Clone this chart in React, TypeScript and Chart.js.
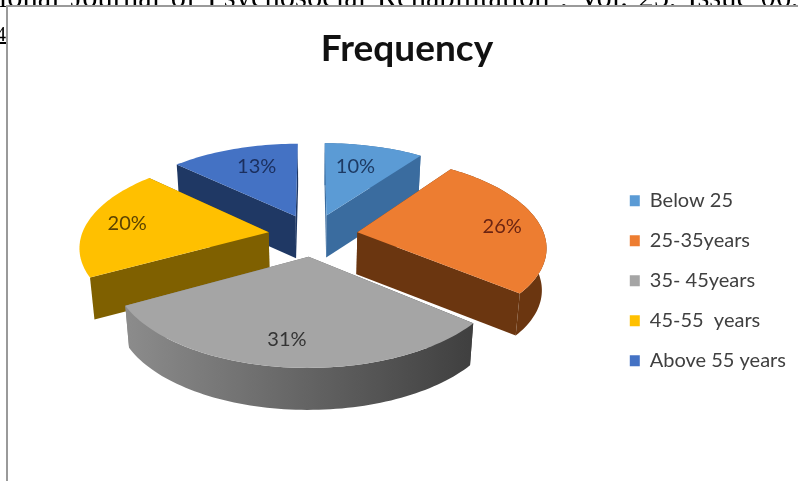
import React, { useEffect, useRef } from "react";
import { Chart, registerables } from "chart.js";

Chart.register(...registerables);

const categories = ["Below 25", "25-35years", "35- 45years", "45-55  years", "Above 55 years"];
const shares = [10, 26, 31, 20, 13];
const topColors = ["#5b9bd5", "#ed7d31", "#a5a5a5", "#ffc000", "#4472c4"];
const wallLeftColors = ["#3a6c9f", "#6b3610", "#8c8c8c", "#7f6000", "#1f3864"];
const wallRightColors = ["#3a6c9f", "#6b3610", "#3f3f3f", "#7f6000", "#1f3864"];
const labelColors = ["#1d3a63", "#6b2412", "#333333", "#5c4300", "#1b2f5e"];
const labelRadii = [0.68, 0.79, 0.78, 0.78, 0.7];
const labelAngleNudges = [-2.5, 2.5, 1.7, 0, 3];
const titleText = "Frequency";
const runningHead = "International Journal of Psychosocial Rehabilitation , Vol. 25, Issue 06, 2021";

// Tilted-disc projection of the pie
const CX = 313;
const CY = 235;
const SCALE_X = 187;
const SCALE_Y = 88;
const PERSPECTIVE = 0.145;
const EXPLODE = 0.24;
const DEPTH = 42;
const BASE_SHRINK = 0.98;
const RIM_WALL_END = (242 * Math.PI) / 180;

type Pt = { x: number; y: number };

const project = (u: number, v: number): Pt => {
  const w = 1 + PERSPECTIVE * v;
  return { x: CX + (SCALE_X * u) / w, y: CY - (SCALE_Y * v) / w };
};

const fillPoly = (ctx: CanvasRenderingContext2D, pts: Pt[], fill: string | CanvasGradient) => {
  ctx.beginPath();
  pts.forEach((p, i) => (i ? ctx.lineTo(p.x, p.y) : ctx.moveTo(p.x, p.y)));
  ctx.closePath();
  ctx.fillStyle = fill;
  ctx.fill();
};

// Lower edge of a wall: dropped by the disc thickness, drawn in toward the vanishing axis
const down = (p: Pt): Pt => ({ x: CX + (p.x - CX) * BASE_SHRINK, y: p.y + DEPTH });

// Page furniture around the embedded chart: cut-off print text and the frame
const pageBackdrop = {
  id: "pageBackdrop",
  beforeDraw(chart: Chart) {
    const { ctx, width, height } = chart;
    ctx.save();
    ctx.fillStyle = "#ffffff";
    ctx.fillRect(0, 0, width, height);
    ctx.fillStyle = "#000000";
    ctx.font = "30.5px 'Liberation Serif'";
    ctx.textBaseline = "alphabetic";
    ctx.textAlign = "left";
    (ctx as any).wordSpacing = "3px";
    ctx.fillText(runningHead, -96, 7);
    (ctx as any).wordSpacing = "0px";
    ctx.fillStyle = "#ffffff";
    ctx.fillRect(6, 5, width, height);
    ctx.fillStyle = "#000000";
    ctx.font = "20px 'Liberation Serif'";
    ctx.save();
    ctx.beginPath();
    ctx.rect(0, 0, 6, height);
    ctx.clip();
    ctx.fillText("4", -4, 41);
    ctx.fillRect(0, 42, 6, 2);
    ctx.restore();
    ctx.fillStyle = "#9a9a9a";
    ctx.fillRect(6, 5, width, 2);
    ctx.fillRect(6, 5, 2, height);
    ctx.restore();
  },
};

// Replaces the flat arcs with extruded, separated wedges painted back to front
const extrudedPie = {
  id: "extrudedPie",
  beforeDatasetsDraw(chart: Chart) {
    const { ctx } = chart;
    const arcs = chart.getDatasetMeta(0).data as any[];
    const wedges = arcs.map((el, i) => {
      const { startAngle, endAngle } = el.getProps(["startAngle", "endAngle"], true);
      const a0 = startAngle + Math.PI / 2;
      const a1 = endAngle + Math.PI / 2;
      const mid = (a0 + a1) / 2;
      return { i, a0, a1, mid, ex: EXPLODE * Math.sin(mid), ey: EXPLODE * Math.cos(mid) };
    });
    const order = [...wedges].sort((p, q) => Math.cos(q.mid) - Math.cos(p.mid));

    ctx.save();
    for (const w of order) {
      const steps = Math.max(2, Math.ceil((w.a1 - w.a0) / (Math.PI / 120)));
      const rim: Pt[] = [];
      const wallRim: Pt[] = [];
      for (let s = 0; s <= steps; s++) {
        const a = w.a0 + ((w.a1 - w.a0) * s) / steps;
        const p = project(w.ex + Math.sin(a), w.ey + Math.cos(a));
        rim.push(p);
        if (a <= RIM_WALL_END) wallRim.push(p);
      }
      const apex = project(w.ex, w.ey);
      const xs = rim.map((p) => p.x).concat(apex.x);
      const grad = ctx.createLinearGradient(Math.min(...xs), 0, Math.max(...xs), 0);
      grad.addColorStop(0, wallLeftColors[w.i]);
      grad.addColorStop(1, wallRightColors[w.i]);

      const first = rim[0];
      const last = rim[rim.length - 1];
      fillPoly(ctx, [apex, first, down(first), down(apex)], grad);
      fillPoly(ctx, [apex, last, down(last), down(apex)], grad);
      if (wallRim.length > 1) fillPoly(ctx, [...wallRim, ...wallRim.map(down).reverse()], grad);
      fillPoly(ctx, [apex, ...rim], topColors[w.i]);
    }

    ctx.font = "20px Lato";
    ctx.textAlign = "center";
    ctx.textBaseline = "middle";
    for (const w of wedges) {
      const r = labelRadii[w.i];
      const a = w.mid + (labelAngleNudges[w.i] * Math.PI) / 180;
      const p = project(w.ex + r * Math.sin(a), w.ey + r * Math.cos(a));
      ctx.fillStyle = labelColors[w.i];
      ctx.fillText(`${shares[w.i]}%`, p.x, p.y);
    }
    ctx.restore();
    return false;
  },
};

export default function App() {
  const canvasRef = useRef<HTMLCanvasElement>(null);

  useEffect(() => {
    document.body.style.margin = "0";
    const chart = new Chart(canvasRef.current!, {
      type: "pie",
      data: {
        labels: categories,
        datasets: [{ data: shares, backgroundColor: topColors, borderWidth: 0 }],
      },
      options: {
        responsive: false,
        animation: false,
        layout: { padding: { left: 18, right: 2, top: 0, bottom: 0 } },
        plugins: {
          title: {
            display: true,
            text: titleText,
            color: "#111111",
            font: { family: "Lato", weight: "bold", size: 37 },
            padding: { top: 27, bottom: 9 },
          },
          legend: {
            position: "right",
            fullSize: false,
            labels: {
              color: "#404040",
              font: { family: "Lato", size: 20 },
              boxWidth: 10,
              boxHeight: 11,
              padding: 20,
            },
          },
          tooltip: { enabled: false },
        },
      },
      plugins: [pageBackdrop, extrudedPie],
    } as any);
    return () => chart.destroy();
  }, []);

  return (
    <canvas
      ref={canvasRef}
      width={798}
      height={481}
      style={{ position: "fixed", left: 0, top: 0, display: "block" }}
    />
  );
}
